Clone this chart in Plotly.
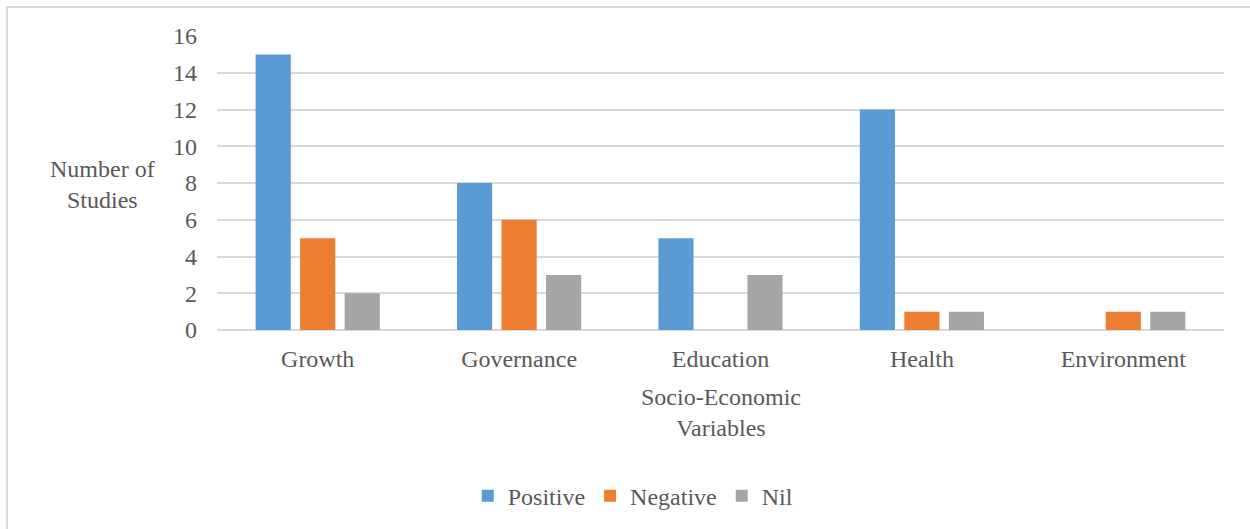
import plotly.graph_objects as go

# Socio-economic variables and number of studies per finding
categories = ["Growth", "Governance", "Education", "Health", "Environment"]
positive = [15, 8, 5, 12, 0]
negative = [5, 6, 0, 1, 1]
nil = [2, 3, 3, 1, 1]
y_ticks = [0, 2, 4, 6, 8, 10, 12, 14, 16]

FONT = "Liberation Serif"
TEXT = "#595959"
GRID = "#D9D9D9"
SIZE = 24

fig = go.Figure()
for name, vals, col in [
    ("Positive", positive, "#5B9BD5"),
    ("Negative", negative, "#ED7D31"),
    ("Nil", nil, "#A5A5A5"),
]:
    fig.add_trace(go.Bar(x=categories, y=vals, name=name,
                         marker=dict(color=col, line=dict(width=0)),
                         hoverinfo="skip"))

fig.update_layout(
    width=1250, height=529,
    margin=dict(l=217, r=26, t=36, b=198),
    paper_bgcolor="white", plot_bgcolor="white",
    barmode="group", bargap=0.337, bargroupgap=0.21,
    font=dict(family=FONT, size=SIZE, color=TEXT),
    showlegend=True,
    legend=dict(orientation="h", x=0.249, xanchor="left", y=-0.56, yanchor="middle",
                font=dict(family=FONT, size=SIZE, color=TEXT),
                itemwidth=30, traceorder="normal"),
    xaxis=dict(showgrid=False, showline=False, ticks="",
               ticklabelstandoff=12, tickfont=dict(family=FONT, size=SIZE)),
    yaxis=dict(range=[0, 16], tickvals=y_ticks, showgrid=True, gridcolor=GRID,
               gridwidth=1.6, zeroline=True, zerolinecolor=GRID, zerolinewidth=1.8,
               showline=False, ticks="", ticklabelstandoff=19,
               tickfont=dict(family=FONT, size=SIZE)),
    shapes=[dict(type="rect", xref="paper", yref="paper",
                 x0=-0.2085, x1=1.2, y0=-1.0, y1=1.0983,
                 line=dict(color=GRID, width=2), layer="below")],
    annotations=[
        dict(text="Number of<br>Studies", xref="paper", yref="paper",
             x=-0.114, y=0.495, xanchor="center", yanchor="middle",
             showarrow=False, align="center",
             font=dict(family=FONT, size=SIZE, color=TEXT)),
        dict(text="Socio-Economic<br>Variables", xref="paper", yref="paper",
             x=0.5, y=-0.28, xanchor="center", yanchor="middle",
             showarrow=False, align="center",
             font=dict(family=FONT, size=SIZE, color=TEXT)),
    ],
)

fig.write_html("out.html")
